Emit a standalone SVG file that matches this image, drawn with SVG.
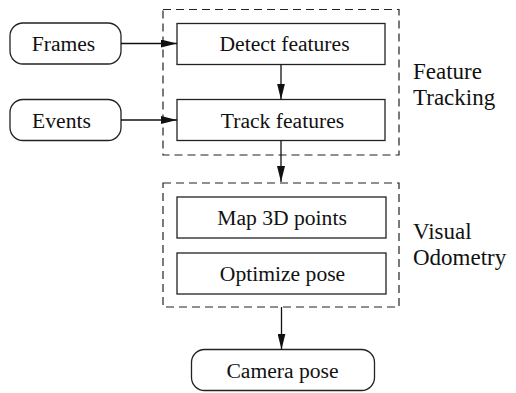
<svg xmlns="http://www.w3.org/2000/svg" width="516" height="393" viewBox="0 0 516 393">
<style>
.box{fill:#fff;stroke:#222;stroke-width:1.3}
.grp{fill:none;stroke:#222;stroke-width:1.2;stroke-dasharray:8 5}
.t{font-family:"Liberation Serif","Times New Roman",serif;font-size:21.6px;fill:#111;text-anchor:middle}
.lbl{font-family:"Liberation Serif","Times New Roman",serif;font-size:23px;fill:#111}
.c{fill:none;stroke:#111;stroke-width:1.3;marker-end:url(#ah)}
</style>
<defs>
<marker id="ah" viewBox="0 0 16 8" refX="16" refY="4" markerWidth="16" markerHeight="8" markerUnits="userSpaceOnUse" orient="auto">
<path d="M0,0 L16,4 L0,8 Z" fill="#111"/>
</marker>
</defs>
<g id="feature-tracking">
<rect class="grp" x="163" y="9.5" width="236" height="145.5"/>
<text class="lbl" x="413" y="79">Feature</text>
<text class="lbl" x="413" y="105">Tracking</text>
</g>
<g id="visual-odometry">
<rect class="grp" x="163" y="183" width="236" height="124"/>
<text class="lbl" x="413" y="238.5">Visual</text>
<text class="lbl" x="413" y="265">Odometry</text>
</g>
<g id="frames">
<rect class="box" x="10" y="23" width="111" height="41" rx="13"/>
<text class="t" x="63.5" y="51">Frames</text>
</g>
<g id="events">
<rect class="box" x="10" y="99.5" width="111" height="41" rx="13"/>
<text class="t" x="61.5" y="128.3">Events</text>
</g>
<g id="detect">
<rect class="box" x="177" y="23.5" width="208" height="41"/>
<text class="t" x="284.5" y="51">Detect features</text>
</g>
<g id="track">
<rect class="box" x="177" y="99.5" width="208" height="41"/>
<text class="t" x="282.5" y="128.3">Track features</text>
</g>
<g id="map">
<rect class="box" x="177" y="197" width="209" height="41"/>
<text class="t" x="282" y="225">Map 3D points</text>
</g>
<g id="optimize">
<rect class="box" x="177" y="253" width="209" height="41"/>
<text class="t" x="282.5" y="280.5">Optimize pose</text>
</g>
<g id="camera">
<rect class="box" x="191.5" y="349.5" width="183" height="41" rx="13"/>
<text class="t" x="282.5" y="378">Camera pose</text>
</g>
<g id="connectors">
<path class="c" d="M121,43.5 H177"/>
<path class="c" d="M121,120 H177"/>
<path class="c" d="M281,64.5 V99.5"/>
<path class="c" d="M281,140.5 V182"/>
<path class="c" d="M281.5,307 V349.5"/>
</g>
</svg>
